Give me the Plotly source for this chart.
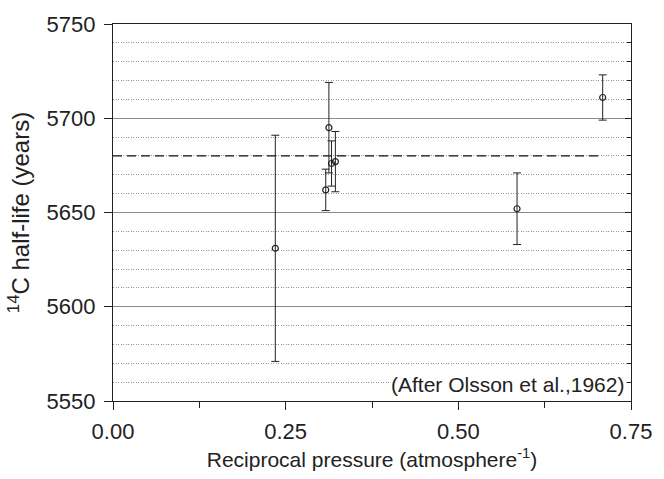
import plotly.graph_objects as go

# Data
recip_pressure = [0.235, 0.308, 0.3126, 0.3164, 0.322, 0.585, 0.709]
half_life = [5631, 5662, 5695, 5676, 5677, 5652, 5711]
half_life_err = [60, 11, 24, 12, 16, 19, 12]

mean_half_life = 5680
mean_line_x = [0.0, 0.705]

x_ticks = [0.00, 0.25, 0.50, 0.75]
x_tick_labels = ["0.00", "0.25", "0.50", "0.75"]
y_ticks = [5550, 5600, 5650, 5700, 5750]

FONT = "Liberation Sans, Arial, Helvetica, sans-serif"
INK = "#222222"

fig = go.Figure()

fig.add_trace(go.Scatter(
    x=mean_line_x, y=[mean_half_life] * len(mean_line_x),
    mode="lines",
    line=dict(color="#111111", width=1.3, dash="9px,5px"),
    showlegend=False, hoverinfo="skip",
))

fig.add_trace(go.Scatter(
    x=recip_pressure, y=half_life,
    mode="markers",
    marker=dict(symbol="circle-open", size=6, color=INK, line=dict(width=1.2, color=INK)),
    error_y=dict(type="data", array=half_life_err, visible=True,
                 color=INK, thickness=1, width=4),
    showlegend=False,
))

# invisible trace to activate right axis
fig.add_trace(go.Scatter(x=[None], y=[None], yaxis="y2", showlegend=False, hoverinfo="skip"))

fig.update_layout(
    width=664, height=479,
    margin=dict(l=113, r=24, t=20, b=69),
    paper_bgcolor="white", plot_bgcolor="white",
    font=dict(family=FONT, color="#222222"),
    xaxis=dict(
        range=[0, 0.75],
        tickvals=x_ticks, ticktext=x_tick_labels,
        ticks="outside", ticklen=8, tickwidth=1, tickcolor="#222222",
        tickfont=dict(size=22), ticklabelstandoff=2,
        showgrid=False, zeroline=False,
        showline=True, linecolor="#222222", linewidth=1.2, mirror=True,
        minor=dict(dtick=0.125, tick0=0, ticks="outside", ticklen=6, tickcolor="#222222", showgrid=False),
        title=dict(text="Reciprocal pressure (atmosphere<sup>-1</sup>)", font=dict(size=21), standoff=9),
    ),
    yaxis=dict(
        range=[5550, 5750],
        tickvals=y_ticks,
        ticks="outside", ticklen=8, tickwidth=1, tickcolor="#222222",
        tickfont=dict(size=22), ticklabelstandoff=4,
        showgrid=True, gridcolor="#8a8a8a", gridwidth=1,
        zeroline=False,
        showline=True, linecolor="#222222", linewidth=1.2, mirror=True,
        minor=dict(dtick=10, tick0=5550, showgrid=True, gridcolor="#9a9a9a",
                   griddash="1px,1.5px", gridwidth=1, ticks=""),
        title=dict(text="<sup>14</sup>C half-life (years)", font=dict(size=24), standoff=10),
    ),
    yaxis2=dict(
        range=[5550, 5750], overlaying="y", side="right",
        tickvals=y_ticks, ticks="inside", ticklen=6, tickcolor="#222222",
        showticklabels=False, showgrid=False, zeroline=False,
        minor=dict(dtick=10, tick0=5550, ticks="inside", ticklen=4, tickcolor="#222222", showgrid=False),
    ),
)

fig.add_annotation(
    x=0.743, y=5551.5, xref="x", yref="y",
    text="(After Olsson et al.,1962)",
    showarrow=False, xanchor="right", yanchor="bottom",
    font=dict(size=21, family=FONT, color="#222222"),
    bgcolor="white",
)

fig.write_html(
    "out.html",
    config={"displayModeBar": False},
    post_script="document.body.style.margin='0';document.body.style.overflow='hidden';",
)
